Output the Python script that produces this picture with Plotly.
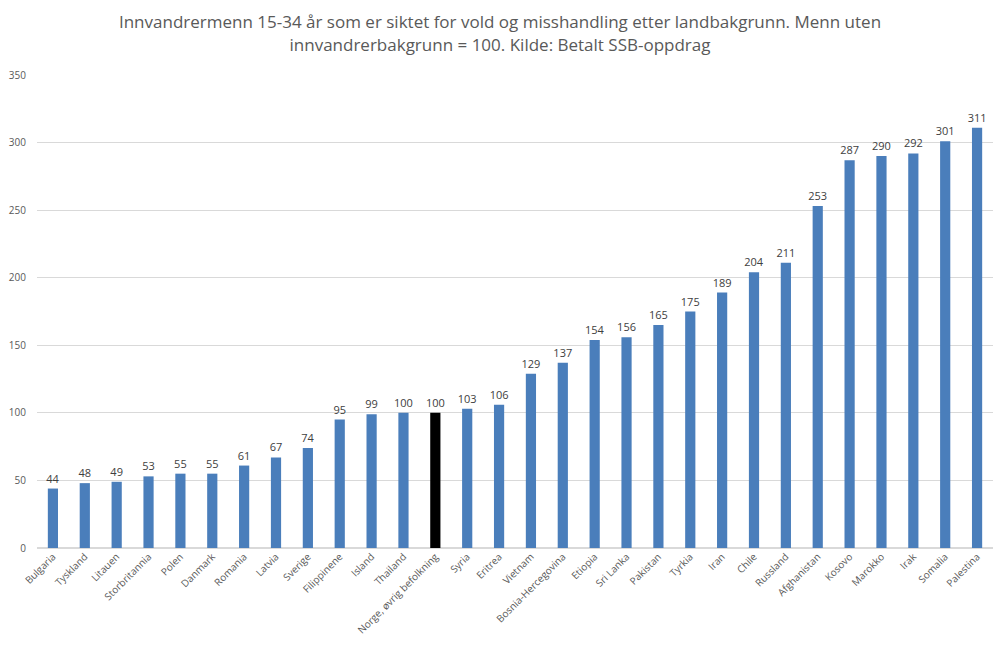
import plotly.graph_objects as go

categories = ["Bulgaria", "Tyskland", "Litauen", "Storbritannia", "Polen", "Danmark", "Romania",
              "Latvia", "Sverige", "Filippinene", "Island", "Thailand", "Norge, øvrig befolkning",
              "Syria", "Eritrea", "Vietnam", "Bosnia-Hercegovina", "Etiopia", "Sri Lanka", "Pakistan",
              "Tyrkia", "Iran", "Chile", "Russland", "Afghanistan", "Kosovo", "Marokko", "Irak",
              "Somalia", "Palestina"]
values = [44, 48, 49, 53, 55, 55, 61, 67, 74, 95, 99, 100, 100, 103, 106, 129, 137, 154, 156, 165,
          175, 189, 204, 211, 253, 287, 290, 292, 301, 311]
highlight = "Norge, øvrig befolkning"

colors = ["#000000" if c == highlight else "#4a7ebb" for c in categories]

fig = go.Figure(go.Bar(
    x=categories, y=values, marker=dict(color=colors, line=dict(width=0)),
    text=[str(v) for v in values], textposition="outside", cliponaxis=False,
    constraintext="none",
    textfont=dict(family="Open Sans", size=11, color="#404040"),
))

fig.update_layout(
    width=1000, height=661,
    margin=dict(l=37, r=7, t=75, b=113),
    paper_bgcolor="white", plot_bgcolor="white",
    bargap=0.68,
    showlegend=False,
    uniformtext=dict(minsize=11, mode="show"),
    title=dict(
        text="Innvandrermenn 15-34 år som er siktet for vold og misshandling etter landbakgrunn. Menn uten<br>innvandrerbakgrunn = 100. Kilde: Betalt SSB-oppdrag",
        x=0.5, xanchor="center", y=0.957, yanchor="top",
        font=dict(family="Open Sans", size=17, color="#595959"),
    ),
    font=dict(family="Open Sans", color="#595959"),
)
fig.update_yaxes(range=[0, 350], dtick=50, showgrid=True, gridcolor="#d9d9d9", gridwidth=1,
                 zeroline=True, zerolinecolor="#d9d9d9", showline=False,
                 tickfont=dict(size=10, color="#595959"), ticklabelstandoff=10)
fig.update_xaxes(tickangle=-45, tickfont=dict(size=10, color="#595959"), showline=False,
                 showgrid=False)

fig.write_html("out.html")
